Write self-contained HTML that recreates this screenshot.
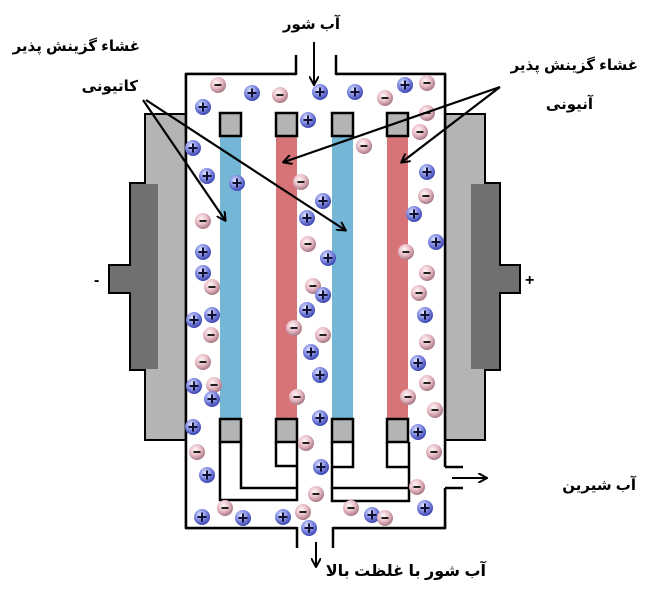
<!DOCTYPE html>
<html><head><meta charset="utf-8"><style>
html,body{margin:0;padding:0;background:#fff;width:646px;height:591px;overflow:hidden}
svg{display:block}
.t{font-family:"Liberation Sans","DejaVu Sans","Noto Sans CJK SC",sans-serif;font-weight:bold;font-size:15px;fill:#000}
</style></head><body>
<svg width="646" height="591" viewBox="0 0 646 591" xmlns="http://www.w3.org/2000/svg">
<defs>
<radialGradient id="gp" cx="40%" cy="35%" r="65%"><stop offset="0" stop-color="#e6e9ff"/><stop offset="0.5" stop-color="#8a93e6"/><stop offset="1" stop-color="#3c46b0"/></radialGradient>
<radialGradient id="gm" cx="40%" cy="35%" r="65%"><stop offset="0" stop-color="#fff6f8"/><stop offset="0.55" stop-color="#e8bcc6"/><stop offset="1" stop-color="#a87884"/></radialGradient>
<g id="P"><circle r="8" fill="url(#gp)"/><path d="M-4.5 0H4.5M0 -4.5V4.5" stroke="#101030" stroke-width="2"/></g>
<g id="M"><circle r="8" fill="url(#gm)"/><path d="M-3.5 0H3.5" stroke="#202020" stroke-width="2"/></g>
<marker id="ar" markerWidth="10" markerHeight="10" refX="8" refY="5" orient="auto" markerUnits="userSpaceOnUse"><path d="M0 0L9 5L0 10" fill="none" stroke="#000" stroke-width="2"/></marker>
</defs>
<path d="M145 114H186V440H145V370H130V293H109V265H130V183H145Z" fill="#b4b4b4" stroke="#000" stroke-width="2"/>
<rect x="131" y="184" width="27" height="185" fill="#707070"/>
<rect x="110" y="266" width="21" height="26" fill="#707070"/>
<path d="M485 114H444V440H485V370H500V293H520V265H500V183H485Z" fill="#b4b4b4" stroke="#000" stroke-width="2"/>
<rect x="471" y="184" width="28" height="185" fill="#707070"/>
<rect x="499" y="266" width="20" height="26" fill="#707070"/>
<path d="M296 55V74H186V528H297V548 M333 548V528H445V488 M445 467V74H336V55" fill="none" stroke="#000" stroke-width="2.5"/>
<rect x="187" y="75" width="257" height="452" fill="#fff"/>
<rect x="220" y="136" width="21" height="284" fill="#74b6d6"/>
<rect x="276" y="136" width="21" height="284" fill="#d67478"/>
<rect x="332" y="136" width="21" height="284" fill="#74b6d6"/>
<rect x="387" y="136" width="21" height="284" fill="#d67478"/>
<g fill="#b4b4b4" stroke="#000" stroke-width="2.5">
<rect x="220" y="113" width="21" height="23"/><rect x="276" y="113" width="21" height="23"/><rect x="332" y="113" width="21" height="23"/><rect x="387" y="113" width="21" height="23"/>
<rect x="220" y="419" width="21" height="23"/><rect x="276" y="419" width="21" height="23"/><rect x="332" y="419" width="21" height="23"/><rect x="387" y="419" width="21" height="23"/>
</g>
<g fill="none" stroke="#000" stroke-width="2.5">
<path d="M220 442V500H297V442 M241 442V488H297 M276 442V466H297"/>
<path d="M332 442V501H409V442 M332 488H409 M332 467H353V442 M387 442V467H409"/>
<path d="M445 467H463 M445 488H463"/>
</g>
<path d="M186 74V528" stroke="#000" stroke-width="2.5"/>
<path d="M445 74V467 M445 488V528 M186 528H297 M333 528H445 M186 74H296 M336 74H445" stroke="#000" stroke-width="2.5"/>
<line x1="314" y1="42" x2="314" y2="84" stroke="#000" stroke-width="2" marker-end="url(#ar)"/>
<line x1="316" y1="542" x2="316" y2="566" stroke="#000" stroke-width="2" marker-end="url(#ar)"/>
<line x1="452" y1="478" x2="486" y2="478" stroke="#000" stroke-width="2" marker-end="url(#ar)"/>
<g>
<use href="#M" x="218" y="85"/><use href="#P" x="252" y="93"/><use href="#M" x="280" y="95"/><use href="#P" x="320" y="92"/><use href="#P" x="355" y="92"/><use href="#P" x="203" y="107"/><use href="#P" x="308" y="120"/>
<use href="#M" x="385" y="98"/><use href="#P" x="405" y="85"/><use href="#M" x="427" y="83"/><use href="#M" x="427" y="113"/><use href="#M" x="420" y="132"/><use href="#M" x="364" y="146"/>
<use href="#P" x="193" y="148"/><use href="#P" x="207" y="176"/><use href="#P" x="237" y="183"/><use href="#M" x="203" y="221"/><use href="#P" x="203" y="252"/><use href="#P" x="203" y="273"/><use href="#M" x="212" y="287"/><use href="#P" x="194" y="320"/><use href="#P" x="212" y="315"/><use href="#M" x="211" y="335"/><use href="#M" x="203" y="362"/><use href="#P" x="194" y="386"/><use href="#M" x="214" y="385"/><use href="#P" x="212" y="399"/>
<use href="#M" x="301" y="182"/><use href="#P" x="323" y="201"/><use href="#P" x="307" y="218"/><use href="#M" x="308" y="244"/><use href="#P" x="328" y="258"/><use href="#M" x="313" y="286"/><use href="#P" x="323" y="295"/><use href="#P" x="307" y="310"/><use href="#M" x="294" y="328"/><use href="#M" x="323" y="335"/><use href="#P" x="311" y="352"/><use href="#P" x="320" y="375"/><use href="#M" x="297" y="397"/>
<use href="#P" x="427" y="172"/><use href="#M" x="426" y="196"/><use href="#P" x="414" y="214"/><use href="#P" x="436" y="242"/><use href="#M" x="406" y="252"/><use href="#M" x="427" y="273"/><use href="#M" x="419" y="293"/><use href="#P" x="425" y="315"/><use href="#M" x="427" y="342"/><use href="#P" x="418" y="363"/><use href="#M" x="427" y="383"/><use href="#M" x="408" y="397"/><use href="#M" x="435" y="410"/>
<use href="#P" x="320" y="418"/><use href="#P" x="193" y="427"/><use href="#M" x="306" y="443"/><use href="#M" x="197" y="452"/><use href="#P" x="321" y="467"/><use href="#P" x="207" y="475"/><use href="#M" x="316" y="494"/><use href="#P" x="202" y="517"/><use href="#M" x="225" y="508"/><use href="#P" x="243" y="518"/><use href="#P" x="283" y="517"/><use href="#M" x="303" y="512"/><use href="#P" x="309" y="528"/><use href="#M" x="351" y="508"/><use href="#P" x="372" y="515"/><use href="#M" x="385" y="518"/><use href="#P" x="425" y="508"/><use href="#M" x="417" y="487"/><use href="#M" x="434" y="452"/><use href="#P" x="418" y="432"/>
</g>
<g stroke="#000" stroke-width="2.2" fill="none">
<line x1="143" y1="100" x2="225" y2="220" marker-end="url(#ar)"/>
<line x1="146" y1="100" x2="345" y2="230" marker-end="url(#ar)"/>
<line x1="500" y1="87" x2="284" y2="162" marker-end="url(#ar)"/>
<line x1="500" y1="87" x2="402" y2="162" marker-end="url(#ar)"/>
</g>
<text class="t" x="140" y="51" text-anchor="start" direction="rtl">غشاء گزینش پذیر</text>
<text class="t" x="138" y="91" text-anchor="start" direction="rtl">کاتیونی</text>
<text class="t" x="638" y="70" text-anchor="start" direction="rtl">غشاء گزینش پذیر</text>
<text class="t" x="593" y="109" text-anchor="start" direction="rtl">آنیونی</text>
<text class="t" x="340" y="29" text-anchor="start" direction="rtl">آب شور</text>
<text class="t" x="636" y="490" text-anchor="start" direction="rtl">آب شیرین</text>
<text class="t" x="486" y="576" text-anchor="start" direction="rtl" style="font-size:16px">آب شور با غلظت بالا</text>
<text class="t" x="94" y="285" style="font-size:16px">-</text>
<text class="t" x="525" y="285" style="font-size:16px">+</text>
</svg>
</body></html>
